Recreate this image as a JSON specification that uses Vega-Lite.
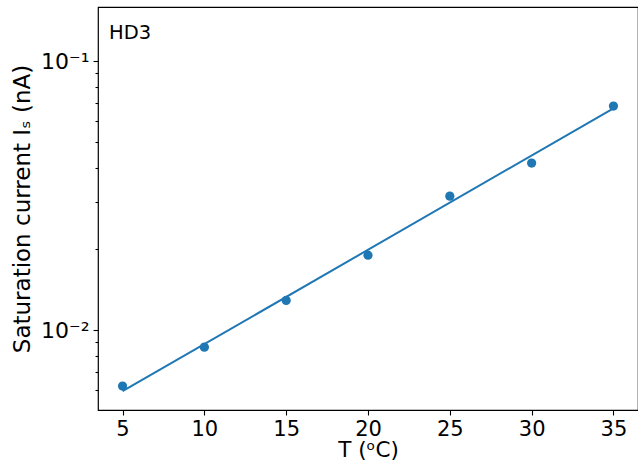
{
  "$schema": "https://vega.github.io/schema/vega-lite/v6.json",
  "width": 540,
  "height": 403,
  "autosize": {"type": "none"},
  "padding": {"left": 98, "top": 7, "right": 0, "bottom": 52},
  "background": "white",
  "view": {"stroke": "black", "strokeWidth": 1.2},
  "datasets": {
    "measured": [
      {"T": 5, "I": 0.0062},
      {"T": 10, "I": 0.00865},
      {"T": 15, "I": 0.0129},
      {"T": 20, "I": 0.019},
      {"T": 25, "I": 0.0315},
      {"T": 30, "I": 0.0418},
      {"T": 35, "I": 0.0681}
    ],
    "fit": [
      {"T": 5, "I": 0.00593},
      {"T": 35, "I": 0.0668}
    ],
    "note": [
      {"label": "HD3", "T": 4.17, "I": 0.127}
    ]
  },
  "layer": [
    {
      "data": {"name": "fit"},
      "mark": {"type": "line", "color": "#1f77b4", "strokeWidth": 2},
      "encoding": {
        "x": {"field": "T", "type": "quantitative", "scale": {"domain": [3.5, 36.5], "nice": false, "zero": false}},
        "y": {"field": "I", "type": "quantitative", "scale": {"type": "log", "domain": [0.00505, 0.159], "nice": false}}
      }
    },
    {
      "data": {"name": "measured"},
      "mark": {"type": "circle", "size": 85, "opacity": 1, "color": "#1f77b4"},
      "encoding": {
        "x": {
          "field": "T", "type": "quantitative",
          "scale": {"domain": [3.5, 36.5], "nice": false, "zero": false},
          "axis": {
            "values": [5, 10, 15, 20, 25, 30, 35],
            "domain": false,
            "grid": false,
            "tickSize": 5,
            "tickWidth": 1.1,
            "tickColor": "black",
            "labelColor": "black",
            "labelFont": "DejaVu Sans",
            "labelFontSize": 21,
            "labelPadding": 3,
            "labelFlush": false,
            "title": "T (ᵒC)",
            "titleFont": "DejaVu Sans",
            "titleFontSize": 21.5,
            "titleFontWeight": "normal",
            "titleColor": "black",
            "titlePadding": 0
          }
        },
        "y": {
          "field": "I", "type": "quantitative",
          "scale": {"type": "log", "domain": [0.00505, 0.159], "nice": false},
          "axis": {
            "values": [0.006, 0.007, 0.008, 0.009, 0.01, 0.02, 0.03, 0.04, 0.05, 0.06, 0.07, 0.08, 0.09, 0.1],
            "labelExpr": "datum.value == 0.01 ? '10⁻²' : (datum.value == 0.1 ? '10⁻¹' : '')",
            "domain": false,
            "grid": false,
            "tickSize": {"condition": {"test": "datum.value == 0.01 || datum.value == 0.1", "value": 5}, "value": 3},
            "tickWidth": 1.1,
            "tickColor": "black",
            "labelColor": "black",
            "labelFont": "DejaVu Sans",
            "labelFontSize": 22,
            "labelPadding": 4,
            "labelFlush": false,
            "title": "Saturation current Iₛ (nA)",
            "titleFont": "DejaVu Sans",
            "titleFontSize": 23,
            "titleFontWeight": "normal",
            "titleColor": "black",
            "titlePadding": 6
          }
        }
      }
    },
    {
      "data": {"name": "note"},
      "mark": {"type": "text", "align": "left", "baseline": "middle", "fontSize": 19.5, "font": "DejaVu Sans", "color": "black"},
      "encoding": {
        "text": {"field": "label"},
        "x": {"field": "T", "type": "quantitative"},
        "y": {"field": "I", "type": "quantitative"}
      }
    }
  ]
}
